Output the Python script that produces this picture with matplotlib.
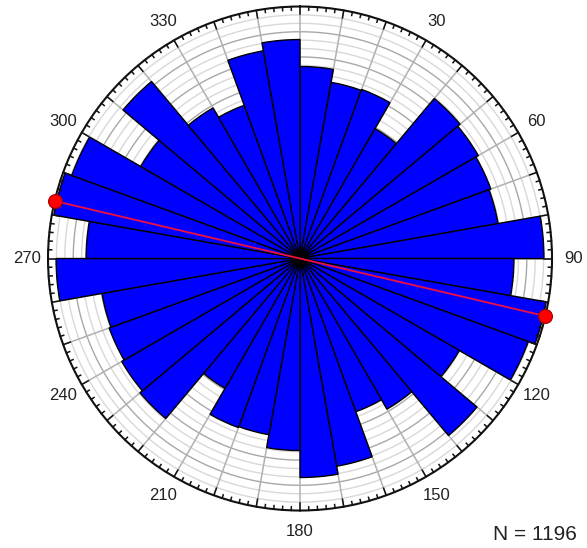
import numpy as np
import matplotlib
matplotlib.use("Agg")
import matplotlib.pyplot as plt

# Bin length (percent of outer ring) for azimuth bins 0-10, 10-20, ..., 170-180.
# Bidirectional rose: bins 180-360 mirror these.
bin_starts = list(range(0, 180, 10))
half_lengths = [76.2, 71.0, 71.4, 59.5, 82.9, 81.7, 80.6, 79.8, 96.8,
                84.9, 99.2, 96.4, 73.0, 91.7, 69.0, 64.7, 83.7, 86.9]
mean_direction = 103.2
n_total = 1196
angle_labels = [30, 60, 90, 120, 150, 180, 210, 240, 270, 300, 330]

R = 100.0
fig = plt.figure(figsize=(5.87, 5.48), dpi=100)
ax = fig.add_axes([0.0818, 0.0684, 0.8586, 0.9197], projection="polar")
ax.set_theta_zero_location("N")
ax.set_theta_direction(-1)
ax.set_ylim(0, R)
ax.grid(False)
ax.set_xticks([])
ax.set_yticks([])
ax.spines["polar"].set_linewidth(1.5)
ax.spines["polar"].set_color("#111111")

# grid circles
full = np.linspace(0, 2 * np.pi, 721)
for i, r in enumerate(np.arange(R / 30, R, R / 30)):
    col = "#a8a8a8" if (i + 1) % 3 == 0 else "#d8d8d8"
    ax.plot(full, np.full_like(full, r), color=col, lw=1.0, zorder=1)
# spokes
for a in range(0, 360, 10):
    t = np.deg2rad(a)
    ax.plot([t, t], [0, R], color="#b0b0b0", lw=1.1, zorder=1)

# bars
starts = bin_starts + [b + 180 for b in bin_starts]
lengths = half_lengths + half_lengths
centers = np.deg2rad(np.array(starts) + 5)
ax.bar(centers, lengths, width=np.deg2rad(10), color="#0000ff",
       edgecolor="#000000", linewidth=1.0, zorder=3)

# ticks on outer ring
for a in range(0, 360, 2):
    t = np.deg2rad(a)
    ln = 3.0 if a % 10 == 0 else 1.4
    ax.plot([t, t], [R - ln, R], color="#111111", lw=1.1, zorder=5, clip_on=False)

# angle labels
for a in angle_labels:
    ax.text(np.deg2rad(a), R + 8.5, str(a), ha="center", va="center",
            fontsize=12, color="#222222", family="Liberation Sans")

# mean direction line
t1 = np.deg2rad(mean_direction)
t2 = np.deg2rad(mean_direction + 180)
ax.plot([t1, 0, t2], [R, 0, R], color="#f01040", lw=1.3, zorder=6, clip_on=False)
ax.plot([t1, t2], [R, R], "o", ms=10, markerfacecolor="#ff0000",
        markeredgecolor="#a00000", markeredgewidth=0.8, zorder=7, clip_on=False)

fig.text(535 / 587, 1 - 534 / 548, f"N = {n_total}", ha="center", va="center",
         fontsize=15, color="#222222", family="Liberation Sans")

fig.savefig("out.png", dpi=100, facecolor="white")
